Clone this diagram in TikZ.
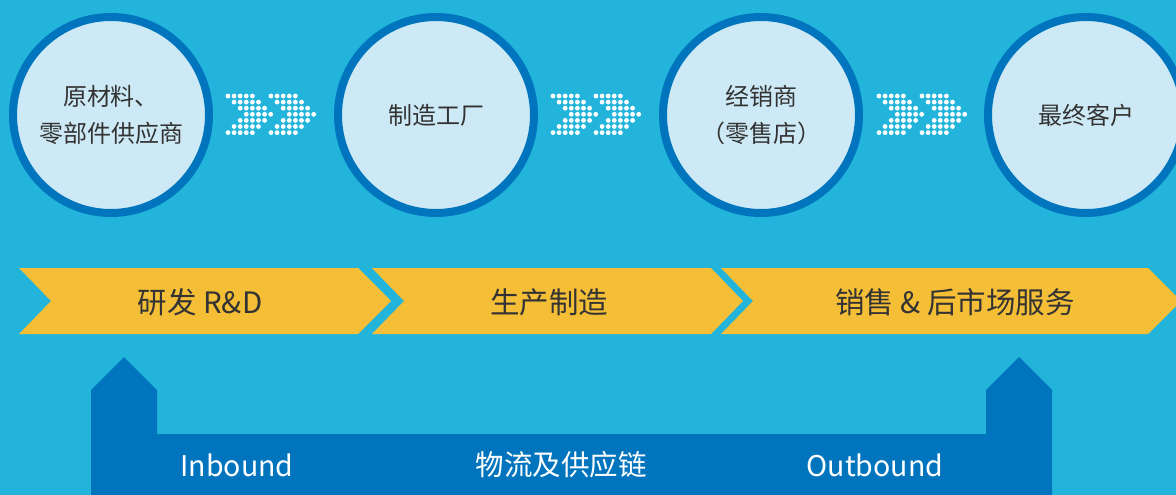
\documentclass[tikz,border=0pt]{standalone}
\usepackage{fontspec}
\setmainfont{Noto Sans CJK SC}
\definecolor{bgc}{HTML}{22B4DA}
\definecolor{circfill}{HTML}{CDE9F5}
\definecolor{darkblue}{HTML}{0075BD}
\definecolor{yel}{HTML}{F4BE37}
\definecolor{txt}{HTML}{333333}
\tikzset{
  stage/.style={circle, draw=darkblue, line width=8pt, fill=circfill, minimum size=196pt, inner sep=0pt, text=txt, font=\fontsize{24}{37}\selectfont, align=center},
  bandtxt/.style={text=txt, font=\fontsize{29.5}{34}\selectfont, inner sep=0pt},
  bottxt/.style={text=white, font=\fontsize{28.5}{32}\selectfont, inner sep=0pt},
  dotc/.style={fill=white}
}
\newcommand{\dotarrow}[2]{%
  \foreach \k in {0,1}{%
    \foreach \r in {0,...,6}{%
      \pgfmathtruncatemacro{\s}{3-abs(\r-3)}%
      \foreach \c in {0,...,4}{%
        \fill[dotc] ({#1+43*\k+6.1*(\c+\s)},{#2+6.1*\r}) circle (2.4pt);
      }%
    }%
  }%
}
\begin{document}
\begin{tikzpicture}[x=1pt,y=-1pt]
\useasboundingbox (0,0) rectangle (1176,495);
\clip (0,0) rectangle (1176,495);
\fill[bgc] (0,0) rectangle (1176,495);
% circles
\node[stage] (c1) at (111,115) {原材料、\\零部件供应商};
\node[stage] (c2) at (436,115) {制造工厂};
\node[stage] (c3) at (761,115) {经销商\\（零售店）};
\node[stage] (c4) at (1086,115) {最终客户};
% dotted arrows
\dotarrow{228}{96}
\dotarrow{553}{96}
\dotarrow{879}{96}
% yellow band
\fill[yel] (19,268) -- (358,268) -- (391,301) -- (358,334) -- (19,334) -- (51,301) -- cycle;
\fill[yel] (372,268) -- (711,268) -- (743,301) -- (711,334) -- (372,334) -- (404,301) -- cycle;
\fill[yel] (721,268) -- (1148,268) -- (1181,301) -- (1148,334) -- (721,334) -- (753,301) -- cycle;
\node[bandtxt] (b1) at (200,302) {研发 R\&D};
\node[bandtxt] (b2) at (549,302) {生产制造};
\node[bandtxt] (b3) at (955,302) {销售 \& 后市场服务};
% bottom shape
\fill[darkblue] (91,495) -- (91,390) -- (124,357) -- (157,390) -- (157,434) -- (986,434) -- (986,390) -- (1019,357) -- (1052,390) -- (1052,495) -- cycle;
\node[bottxt] (i1) at (237,465) {Inbound};
\node[bottxt] (i2) at (561,465) {物流及供应链};
\node[bottxt] (i3) at (875,465) {Outbound};
\end{tikzpicture}
\end{document}
